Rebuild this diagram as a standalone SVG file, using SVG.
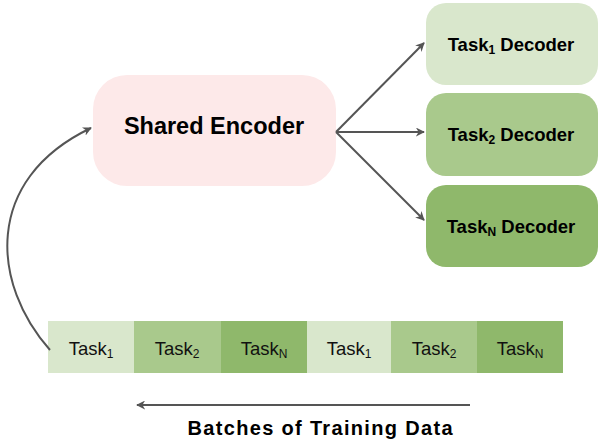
<svg xmlns="http://www.w3.org/2000/svg" width="600" height="440" viewBox="0 0 600 440">
<defs>
<marker id="ah" viewBox="0 0 10 10" refX="9" refY="5" markerWidth="9" markerHeight="9" markerUnits="userSpaceOnUse" orient="auto">
<path d="M0,0 L10,5 L0,10 L3,5 Z" fill="#555"/>
</marker>
<style>
.c{stroke:#555;stroke-width:2;fill:none}
.b{font-family:"Liberation Sans",Arial,sans-serif;font-weight:bold;fill:#000;text-anchor:middle}
.t{font-family:"Liberation Sans",Arial,sans-serif;fill:#111;text-anchor:middle;font-size:18.5px}
.l{fill:#d9e7cc}.m{fill:#a9c98c}.d{fill:#8fb86b}
</style>
</defs>
<rect width="600" height="440" fill="#fff"/>
<g id="encoder">
<rect x="93" y="75" width="243" height="111" rx="34" fill="#fde9e9"/>
<text class="b" x="214" y="134" font-size="23.5">Shared Encoder</text>
</g>
<g id="dec1">
<rect class="l" x="426" y="3" width="172" height="82" rx="20"/>
<text class="b" x="511" y="51" font-size="18.5">Task<tspan font-size="12" dy="3">1</tspan><tspan dy="-3"> Decoder</tspan></text>
</g>
<g id="dec2">
<rect class="m" x="426" y="93" width="172" height="83" rx="20"/>
<text class="b" x="511" y="141" font-size="18.5">Task<tspan font-size="12" dy="3">2</tspan><tspan dy="-3"> Decoder</tspan></text>
</g>
<g id="decN">
<rect class="d" x="426" y="185" width="172" height="82" rx="20"/>
<text class="b" x="511" y="233" font-size="18.5">Task<tspan font-size="12" dy="3">N</tspan><tspan dy="-3"> Decoder</tspan></text>
</g>
<g id="batches">
<rect class="l" x="48" y="321" width="86" height="52"/>
<rect class="m" x="134" y="321" width="87" height="52"/>
<rect class="d" x="221" y="321" width="86" height="52"/>
<rect class="l" x="307" y="321" width="84" height="52"/>
<rect class="m" x="391" y="321" width="86" height="52"/>
<rect class="d" x="477" y="321" width="86" height="52"/>
<text class="t" x="91" y="355">Task<tspan font-size="12" dy="3">1</tspan></text>
<text class="t" x="177" y="355">Task<tspan font-size="12" dy="3">2</tspan></text>
<text class="t" x="264" y="355">Task<tspan font-size="12" dy="3">N</tspan></text>
<text class="t" x="349" y="355">Task<tspan font-size="12" dy="3">1</tspan></text>
<text class="t" x="434" y="355">Task<tspan font-size="12" dy="3">2</tspan></text>
<text class="t" x="520" y="355">Task<tspan font-size="12" dy="3">N</tspan></text>
</g>
<g id="label">
<text class="b" x="320" y="435" font-size="20" textLength="265" lengthAdjust="spacing">Batches of Training Data</text>
</g>
<g id="connectors">
<path class="c" d="M336,132 L424,43" marker-end="url(#ah)"/>
<path class="c" d="M336,132 L424,132" marker-end="url(#ah)"/>
<path class="c" d="M336,132 L424,220" marker-end="url(#ah)"/>
<path class="c" d="M50,350 C-8,285 -18,180 91,128" marker-end="url(#ah)"/>
<path class="c" d="M470,405 L137,405" marker-end="url(#ah)"/>
</g>
</svg>
